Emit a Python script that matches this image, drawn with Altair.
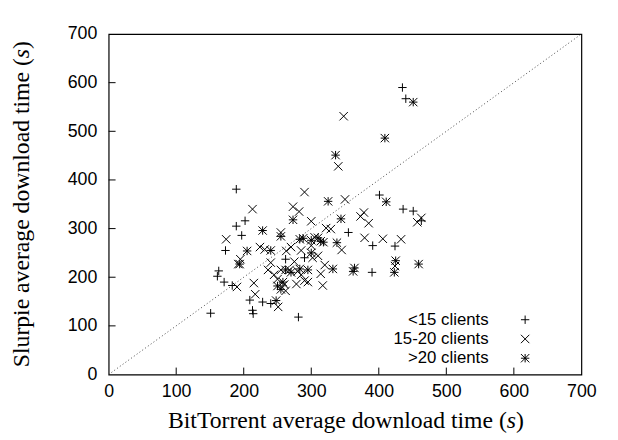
import altair as alt
import pandas as pd

categories = ["<15 clients", "15-20 clients", ">20 clients"]

plus_x = [151, 161, 163, 171, 173, 183, 189, 189, 197, 202, 209, 213, 214, 228, 240, 262, 281, 290, 355, 390, 391, 401, 424, 435, 436, 440, 451, 463]
plus_y = [126, 202, 213, 190, 255, 183, 381, 305, 286, 316, 153, 132, 125, 149, 146, 237, 118, 240, 292, 210, 265, 369, 264, 590, 340, 567, 336, 316]

cross_x = [174, 192, 195, 190, 213, 215, 217, 224, 231, 251, 255, 263, 273, 278, 282, 290, 290, 300, 310, 317, 314, 322, 329, 340, 345, 348, 350, 373, 378, 385, 379, 406, 433, 424, 457, 463, 240, 245, 250, 262, 268, 275, 285, 300, 305, 255, 236, 270, 320, 285, 295, 260, 302, 280]
cross_y = [278, 227, 237, 180, 340, 188, 165, 262, 257, 139, 292, 254, 345, 186, 335, 375, 193, 315, 244, 183, 207, 301, 299, 428, 256, 531, 360, 325, 333, 311, 281, 279, 278, 223, 313, 322, 230, 205, 196, 172, 215, 232, 255, 265, 282, 215, 215, 262, 225, 205, 190, 185, 240, 212]

star_x = [205, 194, 228, 255, 248, 273, 283, 283, 288, 314, 325, 336, 338, 332, 344, 364, 409, 411, 425, 423, 451, 459, 250, 258, 300, 310, 262, 270, 295, 240, 300, 318, 362, 255]
star_y = [254, 227, 296, 284, 152, 318, 278, 217, 280, 274, 356, 451, 271, 217, 320, 219, 486, 355, 234, 210, 560, 227, 182, 190, 276, 281, 215, 210, 215, 255, 250, 272, 212, 175]

axis_ticks = [0, 100, 200, 300, 400, 500, 600, 700]
inner_ticks = [100, 200, 300, 400, 500, 600]

x_title_parts = ["BitTorrent average download time (", "s", ")"]
y_title_parts = ["Slurpie average download time (", "s", ")"]

rows = []
for xs_, ys_, cat in [(plus_x, plus_y, categories[0]), (cross_x, cross_y, categories[1]), (star_x, star_y, categories[2])]:
    for a, b in zip(xs_, ys_):
        rows.append({"bt": a, "sl": b, "grp": cat})
df = pd.DataFrame(rows)

PLUS = "M-1,0L1,0M0,-1L0,1"
CROSS = "M-1,-1L1,1M-1,1L1,-1"
STAR = PLUS + CROSS
shapes = [PLUS, CROSS, STAR]

W, H = 479, 345
xscale = alt.Scale(domain=[0, 700], nice=False, zero=False)
yscale = alt.Scale(domain=[0, 700], nice=False, zero=False)

common_axis = dict(values=axis_ticks, grid=False, ticks=False, domain=False, title=None,
                   labelFont="Liberation Sans", labelFontSize=18, labelColor="black",
                   labelOverlap=False, labelFlush=False)
x_axis = alt.Axis(labelPadding=8, **common_axis)
y_axis = alt.Axis(labelPadding=12, **common_axis)

X = lambda: alt.X("bt:Q", scale=xscale, axis=x_axis)
Y = lambda: alt.Y("sl:Q", scale=yscale, axis=y_axis)

diag = alt.Chart(pd.DataFrame({"bt": [0, 700], "sl": [0, 700]})).mark_line(
    color="#444", strokeDash=[1, 2.5], strokeWidth=1
).encode(x=X(), y=Y())

pts = alt.Chart(df).mark_point(filled=False, strokeWidth=1, opacity=1, size=72, color="black").encode(
    x=X(), y=Y(),
    shape=alt.Shape("grp:N", scale=alt.Scale(domain=categories, range=shapes), legend=None),
)

tick_df = pd.DataFrame({"bt": inner_ticks, "sl": inner_ticks})
xt = alt.Chart(tick_df).mark_rule(color="black", strokeWidth=1).encode(
    x=X(), y=alt.value(H), y2=alt.value(H - 7))
yt = alt.Chart(tick_df).mark_rule(color="black", strokeWidth=1).encode(
    y=Y(), x=alt.value(0), x2=alt.value(7))

layers = [diag, pts, xt, yt]

# legend (labels left of symbols, as in the reference)
leg_y0, leg_dy = 289.5, 19.5
for i, cat in enumerate(categories):
    yy = leg_y0 + i * leg_dy
    layers.append(
        alt.Chart(pd.DataFrame({"t": [cat]})).mark_text(
            align="right", baseline="middle", font="Liberation Sans", fontSize=17, color="black"
        ).encode(text="t:N", x=alt.value(385), y=alt.value(yy))
    )
    layers.append(
        alt.Chart(pd.DataFrame({"t": [cat]})).mark_point(
            filled=False, strokeWidth=1, opacity=1, size=72, color="black", shape=shapes[i]
        ).encode(x=alt.value(422), y=alt.value(yy))
    )

# axis titles with italic "s"
TF = 24
em = {"main_x": 14.386, "main_y": 13.053, "s": 0.389, "p": 0.333}
x_total = (em["main_x"] + em["s"] + em["p"]) * TF
px_ = W / 2 - x_total / 2 + em["main_x"] * TF
ty = H + 47
y_total = (em["main_y"] + em["s"] + em["p"]) * TF
qy = H / 2 + y_total / 2 - em["main_y"] * TF
tx = -88


def title_text(txt, align, x, y, italic=False, angle=0):
    kw = dict(align=align, baseline="middle", font="Liberation Serif", fontSize=TF, color="black")
    if italic:
        kw["fontStyle"] = "italic"
    if angle:
        kw["angle"] = angle
    return alt.Chart(pd.DataFrame({"t": [txt]})).mark_text(**kw).encode(
        text="t:N", x=alt.value(x), y=alt.value(y))


layers += [
    title_text(x_title_parts[0], "right", px_, ty),
    title_text(x_title_parts[1], "left", px_, ty, italic=True),
    title_text(x_title_parts[2], "left", px_ + em["s"] * TF, ty),
    title_text(y_title_parts[0], "right", tx, qy, angle=270),
    title_text(y_title_parts[1], "left", tx, qy, italic=True, angle=270),
    title_text(y_title_parts[2], "left", tx, qy - em["s"] * TF, angle=270),
]

chart = alt.layer(*layers).properties(
    width=W, height=H,
    autosize=alt.AutoSizeParams(type="none"),
    padding={"left": 102, "top": 23.5, "right": 29, "bottom": 63.5},
).configure_view(stroke="black", strokeWidth=1.2)

chart.save("out.html", embed_options={"renderer": "svg", "actions": False})
